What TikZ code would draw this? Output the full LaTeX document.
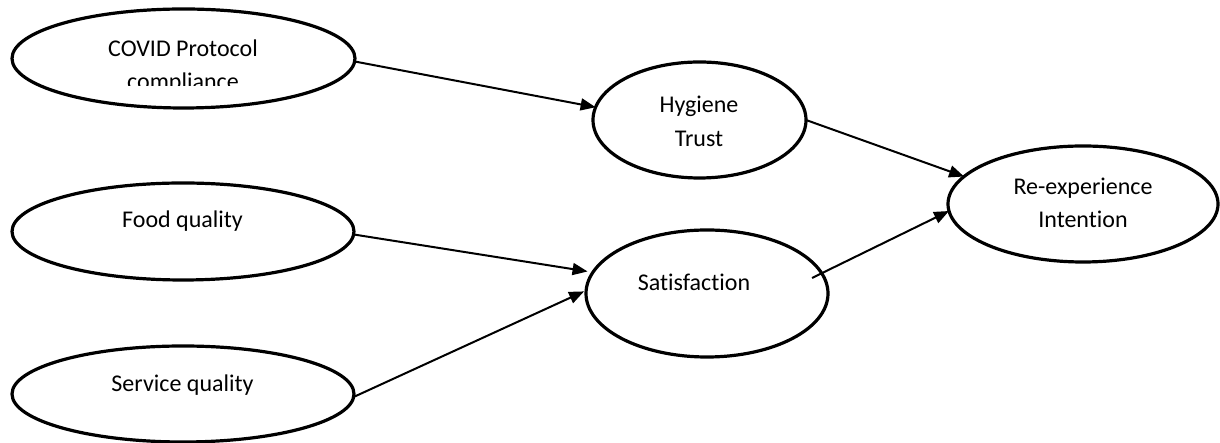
\documentclass[tikz,border=0pt]{standalone}
\usepackage{fontspec}
\setmainfont{Carlito}[Ligatures=NoCommon]
\usetikzlibrary{shapes.geometric,arrows.meta,calc}
\begin{document}
\begin{tikzpicture}[x=1pt,y=1pt,
  construct/.style={ellipse,draw,line width=3.2pt,inner sep=0pt,outer sep=0pt},
  lbl/.style={anchor=base,inner sep=0pt,font=\fontsize{24}{28}\selectfont},
  link/.style={line width=2pt,-{Triangle[length=15pt,width=12pt]}}]
\useasboundingbox (0,0) rectangle (1220,443);
% constructs
\node[construct,minimum width=343pt,minimum height=99pt] (cov) at (183.5,384.5) {};
\node[construct,minimum width=342pt,minimum height=97pt] (food) at (183,211.5) {};
\node[construct,minimum width=342pt,minimum height=96pt] (serv) at (183,49) {};
\node[construct,minimum width=213pt,minimum height=116pt] (hyg) at (699.5,323) {};
\node[construct,minimum width=242pt,minimum height=127pt] (sat) at (707,149.5) {};
\node[construct,minimum width=270pt,minimum height=116pt] (re) at (1083,239) {};
% labels
\node[lbl] (covt1) at (183,386) {COVID Protocol};
\begin{scope}
  \clip (0,357) rectangle (400,380);
  \node[lbl] (covt2) at (183,353) {compliance};
\end{scope}
\node[lbl] (foodt) at (182.5,215) {Food quality};
\node[lbl] (servt) at (182.5,51) {Service quality};
\node[lbl] (hygt1) at (699,330) {Hygiene};
\node[lbl] (hygt2) at (699,296) {Trust};
\node[lbl] (satt) at (694,152) {Satisfaction};
\node[lbl] (ret1) at (1083,248) {Re-experience};
\node[lbl] (ret2) at (1083,215) {Intention};
% connectors
\coordinate (satout) at ($(sat.center)+(105,15.5)$);
\draw[link] (cov.-1.85) -- (hyg.173.6);
\draw[link] (food.-1.17) -- ($(sat.169.5)+(-6,0)$);
\draw[link] (serv.-1.67) -- ($(sat.179.3)+(-2,0)$);
\draw[link] (hyg.east) -- (re.167.3);
\draw[link] (satout) -- (re.183.4);
\end{tikzpicture}
\end{document}
